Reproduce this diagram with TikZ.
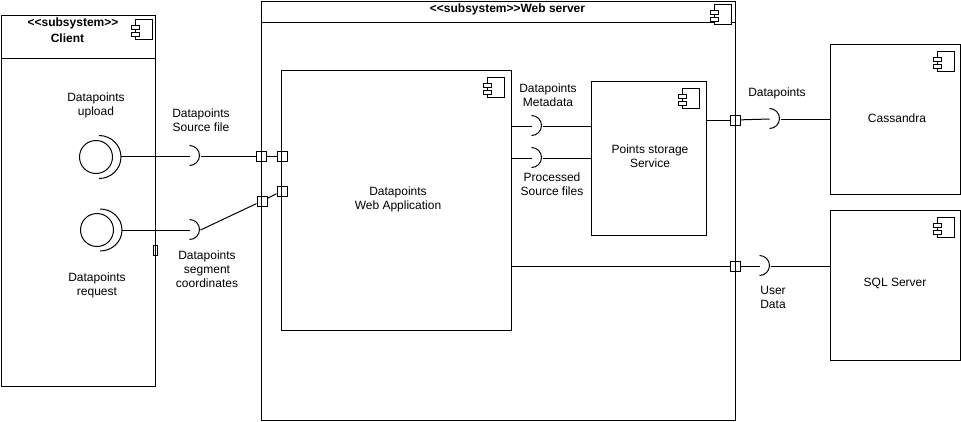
\documentclass[tikz,border=0pt]{standalone}
\usepackage{fontspec}
\setmainfont{Liberation Sans}
\begin{document}
\begin{tikzpicture}[x=1pt,y=-1pt,line width=1pt,
  box/.style={draw,rectangle,inner sep=0pt,anchor=north west},
  portbox/.style={draw,rectangle,inner sep=0pt,minimum width=10pt,minimum height=10pt},
  sock/.style={inner sep=0pt,minimum width=10pt,minimum height=20pt},
  lollip/.style={draw,circle,inner sep=0pt,minimum size=33pt},
  lbl/.style={font=\fontsize{12}{14}\selectfont,align=center,inner sep=0pt},
  ttl/.style={font=\fontsize{12}{14}\selectfont\bfseries,align=center,inner sep=0pt},
  compicon/.pic={
    \draw[fill=white,line width=0.9pt] (0,0) rectangle (17,20);
    \draw[fill=white,line width=0.9pt] (-4,6) rectangle (4,10.5);
    \draw[fill=white,line width=0.9pt] (-4,13) rectangle (4,17.5);
  }]
\useasboundingbox (0,0) rectangle (961,421);

% containers and components
\node[box,minimum width=154.5pt,minimum height=371pt] (client) at (0.5,15) {};
\draw (0.5,58) -- (155,58);
\node[ttl] (clientt1) at (73,23) {<{}<subsystem>{}>};
\node[ttl] (clientt2) at (67.5,38) {Client};
\pic at (135,19) {compicon};

\node[box,minimum width=474.5pt,minimum height=419.5pt] (ws) at (260.5,0.5) {};
\draw (260.5,22) -- (735,22);
\node[ttl] (wst) at (507.5,9) {<{}<subsystem>{}>Web server};
\pic at (714,4) {compicon};

\node[box,minimum width=230pt,minimum height=260pt] (wa) at (281,70) {};
\node[lbl] (wat) at (398,199) {Datapoints\\Web Application};
\pic at (487,77) {compicon};

\node[box,minimum width=115pt,minimum height=154pt] (pss) at (591,81) {};
\node[lbl] (psst) at (650,156) {Points storage\\Service};
\pic at (682,88) {compicon};

\node[box,minimum width=130pt,minimum height=150pt] (cas) at (830,44) {};
\node[lbl] (cast) at (897,118.5) {Cassandra};
\pic at (937,51) {compicon};

\node[box,minimum width=130pt,minimum height=150pt] (sql) at (830,210) {};
\node[lbl] (sqlt) at (895,283.5) {SQL Server};
\pic at (937,217) {compicon};

% ports
\node[portbox] (p1) at (261,156) {};
\node[portbox] (p2) at (262,201) {};
\node[portbox] (q1) at (282,156) {};
\node[portbox] (q2) at (282,191) {};
\node[portbox] (r1) at (735,120) {};
\node[portbox] (r2) at (735,266) {};
\node[draw,rectangle,inner sep=0pt,minimum width=4pt,minimum height=10pt] (cp) at (155,250) {};

% provided + required interfaces in client
\node[lollip] (l1) at (96,157) {};
\draw ([xshift=3pt,yshift=21.5pt]l1.center) arc[start angle=90,end angle=-90,x radius=22pt,y radius=21.5pt];
\coordinate (l1r) at (121,156);
\node[lollip] (l2) at (97,230) {};
\draw ([xshift=3pt,yshift=21pt]l2.center) arc[start angle=90,end angle=-90,x radius=22pt,y radius=21pt];
\coordinate (l2r) at (122,230);

% sockets
\node[sock] (s1) at (195,156) {};
\node[sock] (s2) at (195,230) {};
\node[sock] (s3) at (537,126) {};
\node[sock] (s4) at (537,158) {};
\node[sock] (s5) at (775,119) {};
\node[sock] (s6) at (765,266) {};
\foreach \s in {s1,s2,s3,s4,s5,s6}
  \draw (\s.north west) arc[start angle=90,end angle=-90,radius=10pt];

% connectors
\draw (l1r) -- (s1.west);
\draw (s1.east) -- (p1);
\draw (p1) -- (q1);
\draw (l2r) -- (s2.west);
\draw (s2.east) -- (p2);
\draw (p2) -- (q2);
\draw (wa.east |- s3) -- (s3.west);
\draw (s3.east) -- (s3.east -| pss.west);
\draw (wa.east |- s4) -- (s4.west);
\draw (s4.east) -- (s4.east -| pss.west);
\draw (pss.east |- r1) -- (r1);
\draw (r1) -- (s5.west);
\draw (s5.east) -- (s5.east -| cas.west);
\draw (wa.east |- r2) -- (r2);
\draw (r2) -- (s6.west);
\draw (s6.east) -- (s6.east -| sql.west);

% labels
\node[lbl] (lab1) at (96,105.5) {Datapoints\\upload};
\node[lbl] (lab2) at (201,120.5) {Datapoints\\Source file};
\node[lbl] (lab3) at (207,269.5) {Datapoints\\segment\\coordinates};
\node[lbl] (lab4) at (97,285) {Datapoints\\request};
\node[lbl] (lab5) at (548,95) {Datapoints\\Metadata};
\node[lbl] (lab6) at (552,184.5) {Processed\\Source files};
\node[lbl] (lab7) at (777,93.5) {Datapoints};
\node[lbl] (lab8) at (773,297) {User\\Data};
\end{tikzpicture}
\end{document}
